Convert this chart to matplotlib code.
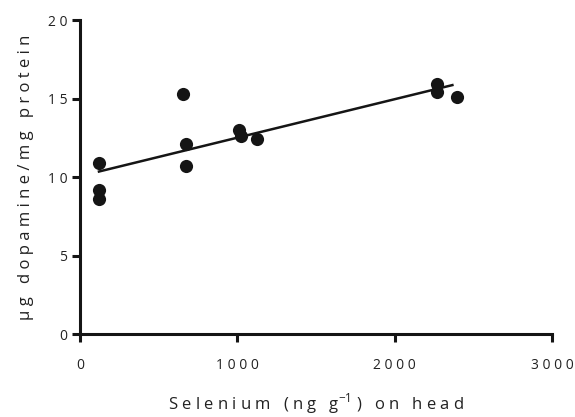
import numpy as np
import matplotlib.pyplot as plt

plt.rcParams['font.family'] = ['Open Sans', 'DejaVu Sans']

# selenium on head (ng/g) and dopamine (ug/mg protein)
selenium = [121, 121, 121, 652, 671, 675, 1011, 1023, 1125, 2272, 2272, 2397]
dopamine = [10.87, 9.16, 8.57, 15.29, 12.10, 10.70, 13.00, 12.63, 12.42, 15.93, 15.43, 15.08]
xticks = [0, 1000, 2000, 3000]
yticks = [0, 5, 10, 15, 20]


def spaced(s, gap=' '):
    # wide letter tracking
    return gap.join(s)


fig = plt.figure(figsize=(5.75, 4.17), dpi=100)
ax = fig.add_axes([0.139, 0.199, 0.821, 0.753])

ax.scatter(selenium, dopamine, s=90, color='#151515', zorder=3, linewidths=0)

# linear fit over the data range
k, b = np.polyfit(selenium, dopamine, 1)
xf = np.array([min(selenium), 2367])
ax.plot(xf, k * xf + b, color='#151515', lw=1.8, zorder=2)

ax.set_xlim(0, 3000)
ax.set_ylim(0, 20)
ax.set_xticks(xticks)
ax.set_yticks(yticks)
ax.set_xticklabels([spaced(str(t)) for t in xticks])
ax.set_yticklabels([spaced(str(t)) for t in yticks])

for s in ['top', 'right']:
    ax.spines[s].set_visible(False)
for s in ['left', 'bottom']:
    ax.spines[s].set_linewidth(2.2)
    ax.spines[s].set_color('#151515')
ax.tick_params(width=2.2, length=5.5, color='#151515', labelsize=10, labelcolor='#222222')
ax.tick_params(axis='x', pad=12)
ax.tick_params(axis='y', pad=3.5)

gap = '   '
ax.set_xlabel(spaced('Selenium') + gap + spaced('(ng') + gap + r'g$^{\mathregular{-1}}$' + ' ' + ')' + gap
              + spaced('on') + gap + spaced('head'),
              fontsize=12, color='#222222', labelpad=13)
ax.set_ylabel(spaced('µg') + gap + spaced('dopamine/mg') + gap + spaced('protein'),
              fontsize=12, color='#222222', labelpad=10)

fig.savefig('out.png', dpi=100)
